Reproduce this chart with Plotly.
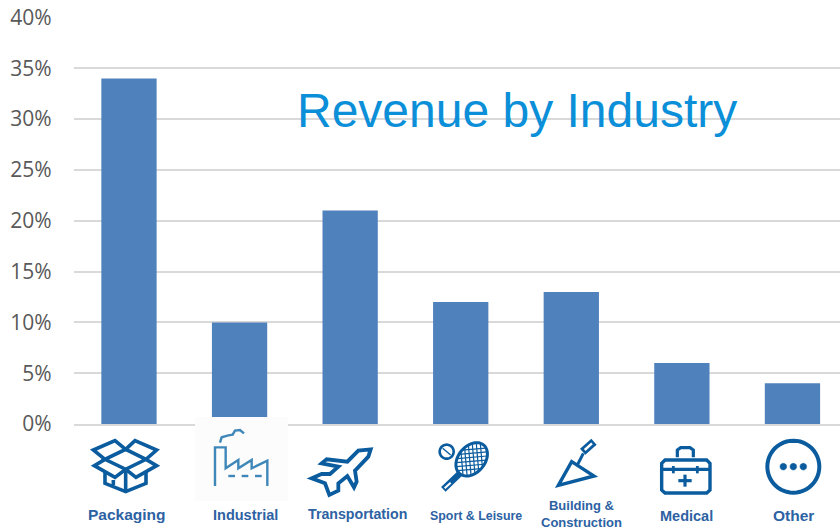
import math
import plotly.graph_objects as go

W, H = 840, 529

categories = ["Packaging", "Industrial", "Transportation", "Sport & Leisure",
              "Building &<br>Construction", "Medical", "Other"]
revenue = [34, 10, 21, 12, 13, 6, 4]
tick_values = [0, 5, 10, 15, 20, 25, 30, 35, 40]
tick_labels = ["0%", "5%", "10%", "15%", "20%", "25%", "30%", "35%", "40%"]

ICON = "#0b5c9e"
TEXT = "#2d62a3"


def px(x):
    return x / W


def py(y):
    return 1 - y / H


def poly(points, ox, oy, close=False):
    d = "M" + " L".join(f"{px(ox + x / 3):.5f},{py(oy + y / 3):.5f}" for x, y in points)
    return d + (" Z" if close else "")


def ellipse(cx, cy, rx, ry, angle=0, n=48):
    a = math.radians(angle)
    pts = []
    for i in range(n):
        t = 2 * math.pi * i / n
        x, y = rx * math.cos(t), ry * math.sin(t)
        pts.append((cx + x * math.cos(a) - y * math.sin(a),
                    cy + x * math.sin(a) + y * math.cos(a)))
    return pts


# chord of a rotated ellipse, offset from the centre along the ellipse's short axis
def chord(cx, cy, rx, ry, angle, off, spin):
    a = math.radians(angle)
    s = math.radians(spin)
    inside = []
    for i in range(-100, 101):
        t = i * 1.0
        x = off * -math.sin(s) + t * math.cos(s)
        y = off * math.cos(s) + t * math.sin(s)
        u = x * math.cos(a) + y * math.sin(a)
        v = -x * math.sin(a) + y * math.cos(a)
        if (u / rx) ** 2 + (v / ry) ** 2 <= 1:
            inside.append((cx + x, cy + y))
    return [inside[0], inside[-1]] if inside else None


def stroke(d, color=ICON, width=3, fill=None):
    s = dict(type="path", path=d, xref="paper", yref="paper", layer="above",
             line=dict(color=color, width=width))
    if fill:
        s["fillcolor"] = fill
    return s


shapes = []

# white-ish box behind the factory icon, it hides the foot of the bar
shapes.append(dict(type="rect", xref="paper", yref="paper", layer="above",
                   x0=px(195), x1=px(288), y0=py(501), y1=py(417),
                   fillcolor="#fcfcfc", line=dict(width=0)))

# packaging
for pts in [
    [(135, 178), (100, 150), (165, 122), (197, 148), (225, 122), (290, 150), (258, 178),
     (197, 208), (135, 178), (197, 148), (258, 178), (290, 197), (228, 232), (197, 208),
     (165, 232), (103, 197), (135, 178)],
    [(135, 215), (135, 250), (197, 275), (258, 250), (258, 215)],
    [(197, 208), (197, 275)],
    [(160, 240), (160, 255)],
]:
    shapes.append(stroke(poly(pts, 60, 400), width=3.6))

# factory
FACT = "#3f87b8"
shapes.append(stroke(poly([(465, 258), (465, 142), (497, 142), (497, 205), (535, 180), (535, 205),
                           (575, 180), (575, 205), (622, 182), (622, 258)], 60, 400),
                     color=FACT, width=2.4))
for x0, x1 in [(505, 525), (545, 565), (585, 605)]:
    shapes.append(stroke(poly([(x0, 228), (x1, 228)], 60, 400), color=FACT, width=2.4))
shapes.append(stroke(poly([(480, 128), (485, 112), (505, 106), (518, 104), (525, 92), (540, 90), (552, 100)],
                          60, 400), color=FACT, width=2.4))

# plane
shapes.append(stroke(poly([(932, 148), (925, 170), (885, 212), (890, 245), (882, 262), (862, 228), (835, 250),
                           (835, 272), (808, 285), (795, 250), (755, 235), (785, 222), (810, 222), (835, 200),
                           (785, 190), (800, 178), (862, 185), (895, 152)], 60, 400, close=True), width=3.8))

# racket
HEAD = (155, 178, 56, 40, -50)
shapes.append(stroke(poly(ellipse(*HEAD), 420, 400, close=True), width=3))
for off in [-30, -18, -6, 6, 18, 30]:
    for spin in [-5, 85]:
        seg = chord(*HEAD, off, spin)
        if seg:
            shapes.append(stroke(poly(seg, 420, 400), width=1.2))
shapes.append(stroke(poly(ellipse(80, 155, 21, 21), 420, 400, close=True), width=2.6))
shapes.append(stroke(poly([(118, 222), (70, 268)], 420, 400), width=6.5))
shapes.append(stroke(poly([(92, 248), (74, 265)], 420, 400), color="#ffffff", width=2))
shapes.append(stroke(poly([(68, 145), (92, 165)], 420, 400), width=1.4))

# trowel
shapes.append(stroke(poly([(415, 256), (455, 185), (522, 228)], 420, 400, close=True), width=3.4))
shapes.append(stroke(poly([(472, 195), (490, 160)], 420, 400), width=3))
shapes.append(stroke(poly([(488, 155), (522, 125)], 420, 400), width=8))
shapes.append(stroke(poly([(494, 150), (516, 130)], 420, 400), color="#ffffff", width=2.4))

# medical case
shapes.append(stroke(poly([(735, 180), (860, 180), (870, 190), (870, 270), (860, 279), (735, 279),
                           (725, 270), (725, 190)], 420, 400, close=True), width=3.4))
shapes.append(stroke(poly([(725, 208), (870, 208)], 420, 400), width=3.4))
shapes.append(stroke(poly([(772, 172), (772, 150), (782, 143), (810, 143), (820, 150), (820, 172)], 420, 400),
                     width=3.2))
shapes.append(stroke(poly([(760, 198), (760, 220)], 420, 400), width=2.8))
shapes.append(stroke(poly([(832, 198), (832, 220)], 420, 400), width=2.8))
shapes.append(stroke(poly([(775, 242), (815, 242)], 420, 400), width=3.2))
shapes.append(stroke(poly([(795, 224), (795, 260)], 420, 400), width=3.2))

# other
shapes.append(stroke(poly(ellipse(1120, 200, 78, 78), 420, 400, close=True), width=4))
for x in [1090, 1120, 1150]:
    shapes.append(stroke(poly(ellipse(x, 200, 10, 10, n=16), 420, 400, close=True), width=0.5, fill=ICON))

# label centres and font sizes
label_x = [127.5, 245, 357, 476, 581, 686, 793]
label_y = [514, 515, 514, 516, 514, 516, 515]
label_size = [15.5, 14.5, 14.2, 12.4, 13, 14.5, 15.5]

annotations = [dict(text=c, x=px(x), y=py(y), xref="paper", yref="paper", showarrow=False,
                    xanchor="center", yanchor="middle", align="center",
                    font=dict(family="Liberation Sans", size=s, color=TEXT, weight="bold"))
               for c, x, y, s in zip(categories, label_x, label_y, label_size)]
annotations.append(dict(text="Revenue by Industry", x=px(517), y=py(110), xref="paper", yref="paper",
                        showarrow=False, xanchor="center", yanchor="middle",
                        font=dict(family="Liberation Sans", size=48, color="#0b8fd8")))

fig = go.Figure(go.Bar(x=categories, y=revenue, width=0.5,
                       marker=dict(color="#4f81bd", line=dict(width=0)),
                       hoverinfo="skip"))

fig.update_layout(width=W, height=H, margin=dict(l=0, r=0, t=0, b=0),
                  paper_bgcolor="white", plot_bgcolor="white", showlegend=False,
                  shapes=shapes, annotations=annotations)
fig.update_xaxes(domain=[px(73.7), 1], range=[-0.5, 6.43], showticklabels=False, ticks="", automargin=False,
                 showgrid=False, zeroline=False, showline=True, linecolor="#d9d9d9", linewidth=2)
fig.update_yaxes(domain=[py(424), py(17.5)], range=[0, 40], tickvals=tick_values, ticktext=tick_labels,
                 showgrid=True, gridcolor="#d9d9d9", gridwidth=2, zeroline=False, showline=False,
                 ticks="", ticklabelstandoff=21, automargin=False,
                 tickfont=dict(family="Open Sans", size=21, color="#595959"))

fig.write_html("out.html", config=dict(displayModeBar=False),
               post_script="document.body.style.margin='0';")
